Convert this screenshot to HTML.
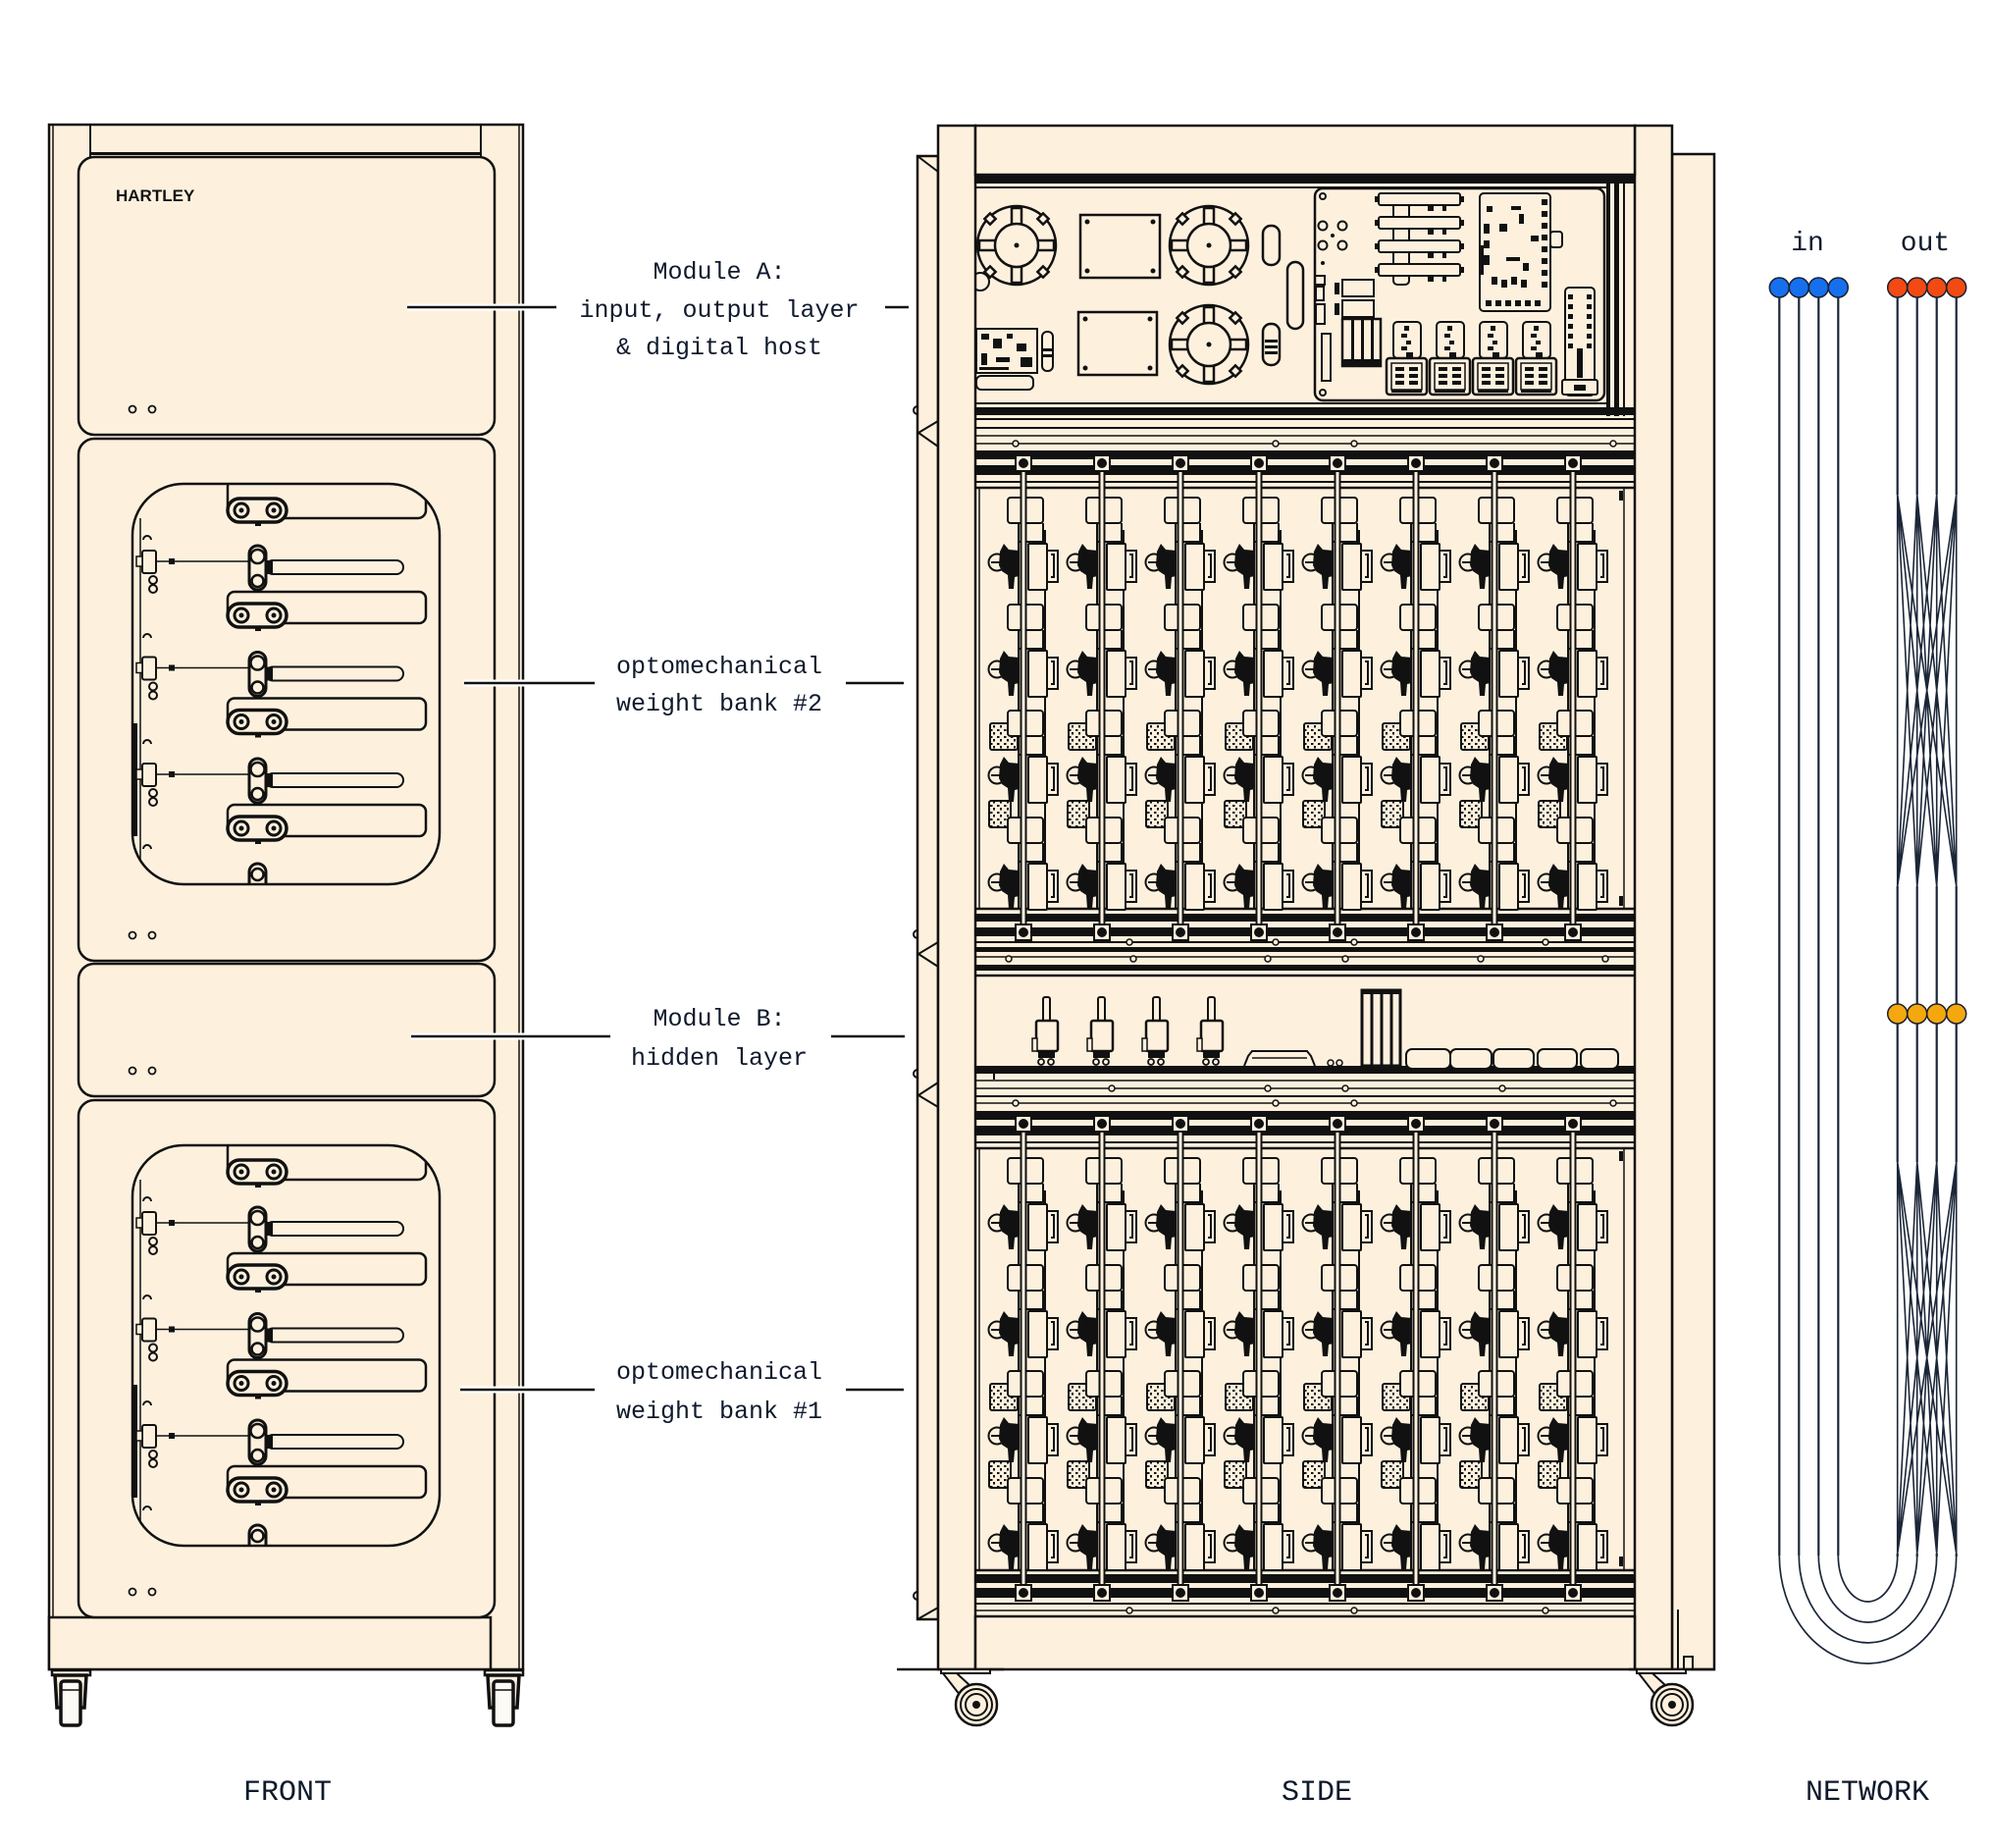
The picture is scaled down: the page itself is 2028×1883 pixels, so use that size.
<!DOCTYPE html>
<html><head><meta charset="utf-8"><style>
html,body{margin:0;padding:0;background:#fff;}
svg{display:block;}
text{font-family:"Liberation Mono",monospace;fill:#0f1a2c;}
</style></head><body>
<svg width="2028" height="1883" viewBox="0 0 2028 1883" xmlns="http://www.w3.org/2000/svg">
<defs>
 <pattern id="spk" width="7" height="7" patternUnits="userSpaceOnUse">
  <rect width="7" height="7" fill="#FDF1DE"/>
  <rect x="1" y="1" width="2.5" height="2" fill="#111"/>
  <rect x="4" y="4" width="2" height="2.5" fill="#111"/>
 </pattern>
 <clipPath id="wc"><rect x="135" y="493" width="313" height="408" rx="52"/></clipPath>

 <g id="roll">
  <rect x="232" y="508" width="60" height="24" rx="12" fill="#FDF1DE" stroke="#111" stroke-width="3.5"/>
  <circle cx="246" cy="520" r="7" fill="#FDF1DE" stroke="#111" stroke-width="3"/>
  <circle cx="246" cy="520" r="2.5" fill="#111"/>
  <circle cx="279" cy="520" r="7" fill="#FDF1DE" stroke="#111" stroke-width="3"/>
  <circle cx="279" cy="520" r="2.5" fill="#111"/>
  <rect x="260" y="532" width="6" height="4" fill="#111"/>
 </g>

 <g id="wrow">
  <line x1="160" y1="572" x2="254" y2="572" stroke="#111" stroke-width="1.5"/>
  <rect x="145" y="561" width="14" height="23" rx="2" fill="#FDF1DE" stroke="#111" stroke-width="2"/>
  <rect x="139" y="567" width="6" height="10" fill="#FDF1DE" stroke="#111" stroke-width="1.5"/>
  <rect x="172" y="569" width="6" height="6" fill="#111"/>
  <circle cx="156" cy="591" r="4" fill="#FDF1DE" stroke="#111" stroke-width="2"/>
  <circle cx="156" cy="600" r="4" fill="#FDF1DE" stroke="#111" stroke-width="2"/>
  <rect x="271" y="571" width="140" height="14" rx="7" fill="#FDF1DE" stroke="#111" stroke-width="2"/>
  <rect x="271" y="571" width="7" height="14" fill="#111"/>
  <rect x="254" y="556" width="17" height="45" rx="8.5" fill="#FDF1DE" stroke="#111" stroke-width="3"/>
  <circle cx="262.5" cy="567" r="7" fill="#FDF1DE" stroke="#111" stroke-width="2.5"/>
  <circle cx="262.5" cy="592" r="6" fill="#FDF1DE" stroke="#111" stroke-width="2.5"/>
  <rect x="232" y="603" width="202" height="32" rx="7" fill="#FDF1DE" stroke="#111" stroke-width="2.5"/>
  <use href="#roll" y="107"/>
 </g>

 <g id="win">
  <rect x="135" y="493" width="313" height="408" rx="52" fill="#FDF1DE"/>
  <g clip-path="url(#wc)">
   <line x1="143" y1="528" x2="143" y2="898" stroke="#111" stroke-width="1.5"/>
   <rect x="136" y="737" width="4" height="115" fill="#111"/>
   <rect x="232" y="488" width="202" height="40" rx="8" fill="#FDF1DE" stroke="#111" stroke-width="2.5"/>
   <use href="#roll"/>
   <use href="#wrow"/>
   <use href="#wrow" y="108.5"/>
   <use href="#wrow" y="217"/>
   <rect x="254" y="880" width="17" height="30" rx="8.5" fill="#FDF1DE" stroke="#111" stroke-width="3"/>
   <circle cx="262.5" cy="891" r="6" fill="#FDF1DE" stroke="#111" stroke-width="2.5"/>
   <g fill="none" stroke="#111" stroke-width="2">
    <path d="M146 550a4 4 0 0 1 8 0"/><path d="M146 650a4 4 0 0 1 8 0"/>
    <path d="M146 758a4 4 0 0 1 8 0"/><path d="M146 865a4 4 0 0 1 8 0"/>
   </g>
  </g>
  <rect x="135" y="493" width="313" height="408" rx="52" fill="none" stroke="#111" stroke-width="2.5"/>
 </g>

 <g id="fc">
  <rect x="53" y="1702" width="39" height="5" fill="#FDF1DE" stroke="#111" stroke-width="2.5"/>
  <path d="M56 1707H88L86 1740H58Z" fill="#FDF1DE" stroke="#111" stroke-width="3.5"/>
  <rect x="62" y="1713" width="20" height="45" rx="3" fill="#FDFBF6" stroke="#111" stroke-width="3.5"/>
  <line x1="62" y1="1722" x2="82" y2="1722" stroke="#111" stroke-width="1.5"/>
 </g>

 <g id="sc">
  <rect x="-36" y="-36" width="50" height="4" fill="#FDF1DE" stroke="#111" stroke-width="2"/>
  <path d="M-34 -32L-20 -32L6 -8L-6 4Z" fill="#FDF1DE" stroke="#111" stroke-width="2"/>
  <circle r="21" fill="#FDF1DE" stroke="#111" stroke-width="2.5"/>
  <circle r="16" fill="none" stroke="#111" stroke-width="2"/>
  <circle r="11" fill="none" stroke="#111" stroke-width="2"/>
  <circle r="4" fill="#111"/>
 </g>

 <g id="fl">
  <circle r="40" fill="#FDF1DE" stroke="#111" stroke-width="2.5"/>
  <g fill="#FDF1DE" stroke="#111" stroke-width="2.5">
   <rect x="-5" y="-38" width="10" height="18"/>
   <rect x="-5" y="20" width="10" height="18"/>
   <rect x="-38" y="-5" width="18" height="10"/>
   <rect x="20" y="-5" width="18" height="10"/>
   <rect x="-4" y="-4" width="8" height="8" transform="translate(27,-27) rotate(45)"/>
   <rect x="-4" y="-4" width="8" height="8" transform="translate(-27,-27) rotate(45)"/>
   <rect x="-4" y="-4" width="8" height="8" transform="translate(27,27) rotate(45)"/>
   <rect x="-4" y="-4" width="8" height="8" transform="translate(-27,27) rotate(45)"/>
  </g>
  <circle r="22" fill="#FDF1DE" stroke="#111" stroke-width="2.5"/>
  <circle r="2.5" fill="#111"/>
 </g>

 <g id="unit">
  <rect x="-16" y="-64" width="36" height="26" rx="3" fill="#FDF1DE" stroke="#111" stroke-width="2"/>
  <path d="M-5 -38V-19M20 -38V-19" fill="none" stroke="#111" stroke-width="2"/>
  <circle cx="-27" cy="2" r="8.5" fill="#FDF1DE" stroke="#111" stroke-width="2"/>
  <line x1="-33" y1="2" x2="-21" y2="2" stroke="#111" stroke-width="2"/>
  <path d="M-24 -9L-20 -17L-15 -11L-4 -10L-4 16L-9 17L-10 29L-15 29L-16 15L-22 11L-25 5Z" fill="#111"/>
  <rect x="5" y="-17" width="19" height="47" rx="1" fill="#FDF1DE" stroke="#111" stroke-width="2"/>
  <path d="M24 -10H35V22H24M28 -6H31V17H28" fill="none" stroke="#111" stroke-width="2"/>
  <line x1="-4" y1="-19" x2="22" y2="-19" stroke="#111" stroke-width="2"/>
 </g>

 <g id="col">
  <path d="M-5 43V429M22 43V429" fill="none" stroke="#111" stroke-width="2"/>
  <rect x="-34" y="240" width="28" height="27" rx="2" fill="url(#spk)" stroke="#111" stroke-width="2"/>
  <rect x="-35" y="319" width="22" height="27" rx="2" fill="url(#spk)" stroke="#111" stroke-width="2"/>
  <use href="#unit" y="74"/>
  <use href="#unit" y="183"/>
  <use href="#unit" y="291"/>
  <use href="#unit" y="400"/>
  <rect x="-2.5" y="-17" width="5" height="462" fill="#FDF1DE" stroke="#111" stroke-width="2"/>
  <rect x="-8" y="-33" width="16" height="16" fill="#FDF1DE" stroke="#111" stroke-width="2"/>
  <circle cx="0" cy="-25" r="5" fill="#111"/>
  <rect x="-8" y="445" width="16" height="16" fill="#FDF1DE" stroke="#111" stroke-width="2"/>
  <circle cx="0" cy="453" r="5" fill="#111"/>
 </g>

 <g id="bank">
  <line x1="998" y1="0" x2="998" y2="429" stroke="#111" stroke-width="1.5"/>
  <line x1="1655" y1="0" x2="1655" y2="429" stroke="#111" stroke-width="1.5"/>
  <rect x="1650" y="3" width="4" height="10" fill="#111"/>
  <rect x="1650" y="416" width="4" height="10" fill="#111"/>
  <use href="#col" x="1043"/>
  <use href="#col" x="1123"/>
  <use href="#col" x="1203"/>
  <use href="#col" x="1283"/>
  <use href="#col" x="1363"/>
  <use href="#col" x="1443"/>
  <use href="#col" x="1523"/>
  <use href="#col" x="1603"/>
 </g>
</defs>

<!-- ================= FRONT ================= -->
<g>
 <rect x="50" y="127" width="483" height="1574" fill="#FDF1DE" stroke="#111" stroke-width="2.5"/>
 <line x1="54" y1="127" x2="54" y2="1701" stroke="#111" stroke-width="1.5"/>
 <line x1="529" y1="127" x2="529" y2="1701" stroke="#111" stroke-width="1.5"/>
 <line x1="92" y1="127" x2="92" y2="160" stroke="#111" stroke-width="2"/>
 <line x1="490" y1="127" x2="490" y2="160" stroke="#111" stroke-width="2"/>
 <line x1="92" y1="156.5" x2="490" y2="156.5" stroke="#111" stroke-width="3"/>
 <rect x="50" y="1648" width="450" height="53" fill="#FDF1DE" stroke="#111" stroke-width="2.5"/>
 <line x1="500" y1="1648" x2="500" y2="1701" stroke="#111" stroke-width="2"/>

 <g fill="#FDF1DE" stroke="#111" stroke-width="2.5">
  <rect x="80" y="160" width="424" height="283" rx="16"/>
  <rect x="80" y="447" width="424" height="532" rx="16"/>
  <rect x="80" y="982" width="424" height="135" rx="16"/>
  <rect x="80" y="1121" width="424" height="527" rx="16"/>
 </g>
 <text x="118" y="205" style="font-family:'Liberation Sans',sans-serif;font-weight:bold;font-size:17px;fill:#111;">HARTLEY</text>
 <g fill="none" stroke="#111" stroke-width="1.8">
  <circle cx="135" cy="417" r="3.5"/><circle cx="155" cy="417" r="3.5"/>
  <circle cx="135" cy="953" r="3.5"/><circle cx="155" cy="953" r="3.5"/>
  <circle cx="135" cy="1091" r="3.5"/><circle cx="155" cy="1091" r="3.5"/>
  <circle cx="135" cy="1622" r="3.5"/><circle cx="155" cy="1622" r="3.5"/>
 </g>
 <use href="#win"/>
 <use href="#win" y="674"/>
 <use href="#fc"/>
 <use href="#fc" x="441"/>
</g>

<!-- ================= CONNECTORS & LABELS ================= -->
<g stroke-linecap="butt">
 <g stroke="#fff" stroke-width="7">
  <line x1="415" y1="313" x2="567" y2="313"/>
  <line x1="473" y1="696" x2="606" y2="696"/>
  <line x1="419" y1="1056" x2="622" y2="1056"/>
  <line x1="469" y1="1416" x2="606" y2="1416"/>
 </g>
 <g stroke="#111" stroke-width="2.5">
  <line x1="415" y1="313" x2="567" y2="313"/><line x1="902" y1="313" x2="926" y2="313"/>
  <line x1="473" y1="696" x2="606" y2="696"/><line x1="862" y1="696" x2="921" y2="696"/>
  <line x1="419" y1="1056" x2="622" y2="1056"/><line x1="847" y1="1056" x2="922" y2="1056"/>
  <line x1="469" y1="1416" x2="606" y2="1416"/><line x1="862" y1="1416" x2="921" y2="1416"/>
 </g>
</g>
<g font-size="25" text-anchor="middle">
 <text x="733" y="284">Module A:</text>
 <text x="733" y="323">input, output layer</text>
 <text x="733" y="361">&amp; digital host</text>
 <text x="733" y="686">optomechanical</text>
 <text x="733" y="724">weight bank #2</text>
 <text x="733" y="1045">Module B:</text>
 <text x="733" y="1085">hidden layer</text>
 <text x="733" y="1405">optomechanical</text>
 <text x="733" y="1445">weight bank #1</text>
</g>

<!-- ================= SIDE ================= -->
<g>
 <rect x="1704" y="157" width="43" height="1544" fill="#FDF1DE" stroke="#111" stroke-width="2.5"/>
 <line x1="1710" y1="1640" x2="1710" y2="1700" stroke="#111" stroke-width="2"/>
 <rect x="1716" y="1688" width="9" height="13" fill="none" stroke="#111" stroke-width="2"/>
 <rect x="935" y="159" width="21" height="1491" fill="#FDF1DE" stroke="#111" stroke-width="2.5"/>
 <g fill="none" stroke="#111" stroke-width="2">
  <path d="M935 159L956 175"/>
  <path d="M956 429L936 441L956 455"/>
  <path d="M956 960L936 972L956 985"/>
  <path d="M956 1103L936 1116L956 1128"/>
  <path d="M935 1650L956 1638"/>
  <path d="M935 414a4 4 0 0 0 0 8"/>
  <path d="M935 948a4 4 0 0 0 0 8"/>
  <path d="M935 1090a4 4 0 0 0 0 8"/>
  <path d="M935 1622a4 4 0 0 0 0 8"/>
 </g>
 <rect x="994" y="178" width="672" height="1469" fill="#FDF1DE"/>

 <!-- Module A contents -->
 <circle cx="999" cy="287" r="9" fill="#FDF1DE" stroke="#111" stroke-width="2"/>
 <use href="#fl" x="1036" y="250"/>
 <use href="#fl" x="1232" y="250"/>
 <use href="#fl" x="1232" y="351"/>
 <g fill="#FDF1DE" stroke="#111" stroke-width="2.5">
  <rect x="1101" y="219" width="81" height="64"/>
  <rect x="1099" y="318" width="80" height="64"/>
  <rect x="1287" y="230" width="17" height="40" rx="8"/>
  <rect x="1312" y="267" width="16" height="68" rx="8"/>
  <rect x="1287" y="330" width="17" height="42" rx="8"/>
  <rect x="995" y="335" width="62" height="45" stroke-width="2"/>
  <rect x="995" y="383" width="58" height="14" rx="5" stroke-width="2"/>
  <rect x="1062" y="338" width="11" height="40" rx="5" stroke-width="2"/>
 </g>
 <g fill="#111">
  <circle cx="1108" cy="226" r="2.5"/><circle cx="1175" cy="226" r="2.5"/><circle cx="1108" cy="276" r="2.5"/><circle cx="1175" cy="276" r="2.5"/>
  <circle cx="1106" cy="325" r="2.5"/><circle cx="1172" cy="325" r="2.5"/><circle cx="1106" cy="375" r="2.5"/><circle cx="1172" cy="375" r="2.5"/>
  <rect x="1289" y="346" width="13" height="3"/><rect x="1289" y="352" width="13" height="3"/><rect x="1289" y="358" width="13" height="3"/>
  <rect x="1063" y="355" width="9" height="3"/><rect x="1063" y="361" width="9" height="3"/>
  <rect x="1000" y="340" width="8" height="6"/><rect x="1012" y="345" width="9" height="10"/><rect x="1026" y="340" width="6" height="5"/>
  <rect x="1036" y="350" width="10" height="8"/><rect x="1000" y="360" width="6" height="12"/><rect x="1015" y="364" width="14" height="5"/>
  <rect x="1040" y="364" width="12" height="10"/><rect x="998" y="374" width="30" height="3"/>
 </g>
 <rect x="1340" y="192" width="295" height="216" rx="8" fill="#FDF1DE" stroke="#111" stroke-width="2.5"/>
 <g fill="none" stroke="#111" stroke-width="2">
  <circle cx="1348" cy="200" r="3"/><circle cx="1348" cy="400" r="3"/>
  <circle cx="1348" cy="230" r="4.5"/><circle cx="1368" cy="230" r="4.5"/>
  <circle cx="1348" cy="250" r="4.5"/><circle cx="1368" cy="250" r="4.5"/>
  <rect x="1340" y="281" width="10" height="9"/><rect x="1341" y="292" width="8" height="14"/><rect x="1341" y="310" width="9" height="20"/>
  <rect x="1347" y="340" width="9" height="48"/>
  <rect x="1420" y="197" width="16" height="93" rx="4" fill="#FDF1DE"/>
 </g>
 <circle cx="1358" cy="240" r="2" fill="#111"/><circle cx="1348" cy="268" r="2" fill="#111"/>
 <g fill="#FDF1DE" stroke="#111" stroke-width="2">
  <rect x="1405" y="197" width="83" height="12" rx="2"/>
  <rect x="1405" y="221" width="83" height="12" rx="2"/>
  <rect x="1405" y="245" width="83" height="12" rx="2"/>
  <rect x="1405" y="269" width="83" height="12" rx="2"/>
  <rect x="1368" y="285" width="32" height="17"/>
  <rect x="1368" y="306" width="32" height="17"/>
  <rect x="1368" y="325" width="39" height="48" stroke-width="2.5"/>
  <rect x="1508" y="197" width="72" height="120" rx="4"/>
  <rect x="1580" y="236" width="12" height="16" rx="3"/>
  <rect x="1595" y="293" width="30" height="110" rx="4"/>
  <rect x="1592" y="387" width="36" height="15" rx="2"/>
 </g>
 <g fill="#111">
  <rect x="1401" y="200" width="4" height="6"/><rect x="1488" y="200" width="4" height="6"/>
  <rect x="1401" y="224" width="4" height="6"/><rect x="1488" y="224" width="4" height="6"/>
  <rect x="1401" y="248" width="4" height="6"/><rect x="1488" y="248" width="4" height="6"/>
  <rect x="1401" y="272" width="4" height="6"/><rect x="1488" y="272" width="4" height="6"/>
  <rect x="1455" y="209" width="6" height="6"/><rect x="1470" y="209" width="4" height="6"/>
  <rect x="1455" y="233" width="6" height="6"/><rect x="1470" y="233" width="4" height="6"/>
  <rect x="1455" y="257" width="6" height="6"/><rect x="1470" y="257" width="4" height="6"/>
  <rect x="1455" y="281" width="6" height="6"/><rect x="1470" y="281" width="4" height="6"/>
  <rect x="1377" y="325" width="3" height="48"/><rect x="1387" y="325" width="3" height="48"/><rect x="1397" y="325" width="3" height="48"/>
  <rect x="1368" y="366" width="39" height="7"/>
  <rect x="1360" y="288" width="5" height="12"/><rect x="1360" y="309" width="5" height="12"/>
  <rect x="1571" y="203" width="6" height="6"/><rect x="1571" y="215" width="6" height="6"/><rect x="1571" y="227" width="6" height="6"/>
  <rect x="1571" y="239" width="6" height="6"/><rect x="1571" y="251" width="6" height="6"/><rect x="1571" y="263" width="6" height="6"/>
  <rect x="1571" y="275" width="6" height="6"/><rect x="1571" y="287" width="6" height="6"/>
  <rect x="1514" y="306" width="6" height="6"/><rect x="1524" y="306" width="6" height="6"/><rect x="1534" y="306" width="6" height="6"/>
  <rect x="1544" y="306" width="6" height="6"/><rect x="1554" y="306" width="6" height="6"/><rect x="1564" y="306" width="6" height="6"/>
  <rect x="1540" y="210" width="10" height="4"/><rect x="1548" y="218" width="5" height="10"/><rect x="1528" y="228" width="8" height="8"/>
  <rect x="1512" y="228" width="6" height="10"/><rect x="1512" y="245" width="6" height="8"/><rect x="1512" y="260" width="6" height="10"/>
  <rect x="1508" y="250" width="4" height="30"/><rect x="1535" y="262" width="14" height="4"/><rect x="1552" y="268" width="6" height="8"/>
  <rect x="1520" y="282" width="6" height="8"/><rect x="1530" y="285" width="6" height="8"/><rect x="1540" y="282" width="6" height="8"/>
  <rect x="1550" y="285" width="6" height="8"/><rect x="1560" y="240" width="8" height="6"/><rect x="1515" y="210" width="6" height="6"/>
  <rect x="1598" y="300" width="5" height="5"/><rect x="1598" y="310" width="5" height="5"/><rect x="1598" y="320" width="5" height="5"/>
  <rect x="1598" y="330" width="5" height="5"/><rect x="1598" y="340" width="5" height="5"/><rect x="1598" y="350" width="5" height="5"/>
  <rect x="1617" y="300" width="5" height="5"/><rect x="1617" y="310" width="5" height="5"/><rect x="1617" y="320" width="5" height="5"/>
  <rect x="1617" y="330" width="5" height="5"/><rect x="1617" y="340" width="5" height="5"/><rect x="1617" y="350" width="5" height="5"/>
  <rect x="1607" y="355" width="6" height="30"/><rect x="1604" y="392" width="12" height="6"/>
 </g>
 <g id="sb">
  <rect x="1420" y="328" width="28" height="37" rx="4" fill="#FDF1DE" stroke="#111" stroke-width="2"/>
  <rect x="1413" y="365" width="41" height="37" rx="3" fill="#FDF1DE" stroke="#111" stroke-width="2.5"/>
  <rect x="1418" y="370" width="31" height="27" fill="none" stroke="#111" stroke-width="1.5"/>
  <g fill="#111">
   <rect x="1431" y="332" width="5" height="5"/><rect x="1428" y="340" width="6" height="4"/><rect x="1433" y="347" width="5" height="4"/>
   <rect x="1428" y="353" width="6" height="4"/><rect x="1433" y="359" width="7" height="5"/>
   <rect x="1422" y="374" width="9" height="4"/><rect x="1436" y="374" width="9" height="4"/>
   <rect x="1422" y="381" width="9" height="4"/><rect x="1436" y="381" width="9" height="4"/>
   <rect x="1422" y="388" width="9" height="4"/><rect x="1436" y="388" width="9" height="4"/>
   <rect x="1418" y="397" width="31" height="3"/>
  </g>
 </g>
 <use href="#sb" x="44"/><use href="#sb" x="88"/><use href="#sb" x="132"/>

 <g fill="#111">
  <rect x="994" y="179" width="672" height="8"/>
  <rect x="1637" y="178" width="4" height="246"/>
  <rect x="1645" y="178" width="5" height="246"/>
  <rect x="994" y="415" width="672" height="8"/>
 </g>
 <g stroke="#111" stroke-width="2">
  <line x1="994" y1="191" x2="1637" y2="191"/>
  <line x1="994" y1="411" x2="1637" y2="411"/>
  <line x1="994" y1="427" x2="1666" y2="427"/>
  <line x1="1655" y1="178" x2="1655" y2="424"/>
 </g>

 <g stroke="#111" fill="none">
  <line x1="994" y1="436" x2="1666" y2="436" stroke-width="2"/>
  <line x1="994" y1="444" x2="1666" y2="444" stroke-width="1.5"/>
  <line x1="994" y1="452" x2="1666" y2="452" stroke-width="1.5"/>
  <line x1="994" y1="491" x2="1666" y2="491" stroke-width="2"/>
  <line x1="994" y1="497" x2="1666" y2="497" stroke-width="2.5"/>
 </g>
 <g fill="#111">
  <rect x="994" y="459" width="672" height="9"/>
  <rect x="994" y="474" width="672" height="10"/>
 </g>
 <g stroke="#111" fill="none">
  <line x1="994" y1="926" x2="1666" y2="926" stroke-width="2.5"/>
  <line x1="994" y1="960" x2="1666" y2="960" stroke-width="2"/>
  <line x1="994" y1="975" x2="1666" y2="975" stroke-width="1.5"/>
  <line x1="994" y1="994" x2="1666" y2="994" stroke-width="2.5"/>
 </g>
 <g fill="#111">
  <rect x="994" y="931" width="672" height="8"/>
  <rect x="994" y="945" width="672" height="9"/>
  <rect x="994" y="965" width="672" height="5"/>
  <rect x="994" y="983" width="672" height="6"/>
 </g>
 <g stroke="#111" fill="none">
  <line x1="994" y1="1101" x2="1666" y2="1101" stroke-width="1.5"/>
  <line x1="994" y1="1109" x2="1666" y2="1109" stroke-width="1.5"/>
  <line x1="994" y1="1117" x2="1666" y2="1117" stroke-width="2"/>
  <line x1="994" y1="1124" x2="1666" y2="1124" stroke-width="1.5"/>
  <line x1="994" y1="1164" x2="1666" y2="1164" stroke-width="2"/>
  <line x1="994" y1="1170" x2="1666" y2="1170" stroke-width="2.5"/>
 </g>
 <g fill="#111">
  <rect x="994" y="1086" width="672" height="8"/>
  <rect x="994" y="1132" width="672" height="9"/>
  <rect x="994" y="1147" width="672" height="10"/>
 </g>
 <g stroke="#111" fill="none">
  <line x1="994" y1="1600" x2="1666" y2="1600" stroke-width="2.5"/>
  <line x1="994" y1="1634" x2="1666" y2="1634" stroke-width="2"/>
  <line x1="994" y1="1641" x2="1666" y2="1641" stroke-width="1.5"/>
 </g>
 <g fill="#111">
  <rect x="994" y="1604" width="672" height="9"/>
  <rect x="994" y="1618" width="672" height="10"/>
 </g>
 <g fill="#FDF1DE" stroke="#111" stroke-width="1.5">
  <circle cx="1035" cy="452" r="3"/><circle cx="1300" cy="452" r="3"/><circle cx="1380" cy="452" r="3"/><circle cx="1644" cy="452" r="3"/>
  <circle cx="1151" cy="960" r="3"/><circle cx="1300" cy="960" r="3"/><circle cx="1380" cy="960" r="3"/><circle cx="1575" cy="960" r="3"/>
  <circle cx="1028" cy="977" r="3"/><circle cx="1155" cy="977" r="3"/><circle cx="1292" cy="977" r="3"/><circle cx="1371" cy="977" r="3"/><circle cx="1509" cy="977" r="3"/><circle cx="1636" cy="977" r="3"/>
  <circle cx="1133" cy="1109" r="3"/><circle cx="1292" cy="1109" r="3"/><circle cx="1371" cy="1109" r="3"/><circle cx="1531" cy="1109" r="3"/>
  <circle cx="1035" cy="1124" r="3"/><circle cx="1300" cy="1124" r="3"/><circle cx="1380" cy="1124" r="3"/><circle cx="1644" cy="1124" r="3"/>
  <circle cx="1151" cy="1641" r="3"/><circle cx="1300" cy="1641" r="3"/><circle cx="1380" cy="1641" r="3"/><circle cx="1575" cy="1641" r="3"/>
 </g>

 <g id="fm">
  <rect x="1063" y="1016" width="7" height="25" rx="2" fill="#FDF1DE" stroke="#111" stroke-width="2"/>
  <rect x="1056" y="1040" width="22" height="31" rx="2" fill="#FDF1DE" stroke="#111" stroke-width="2.5"/>
  <rect x="1052" y="1058" width="5" height="13" fill="#FDF1DE" stroke="#111" stroke-width="1.5"/>
  <rect x="1058" y="1071" width="17" height="7" fill="#111"/>
  <circle cx="1061" cy="1082" r="3" fill="#FDF1DE" stroke="#111" stroke-width="1.8"/>
  <circle cx="1071" cy="1082" r="3" fill="#FDF1DE" stroke="#111" stroke-width="1.8"/>
 </g>
 <use href="#fm" x="56"/><use href="#fm" x="112"/><use href="#fm" x="168"/>
 <path d="M1268 1086L1272 1076L1276 1071H1332L1336 1076L1340 1086" fill="#FDF1DE" stroke="#111" stroke-width="2"/>
 <line x1="1276" y1="1078" x2="1332" y2="1078" stroke="#111" stroke-width="1.5"/>
 <circle cx="1356" cy="1083" r="3" fill="none" stroke="#111" stroke-width="1.5"/>
 <circle cx="1365" cy="1083" r="3" fill="none" stroke="#111" stroke-width="1.5"/>
 <rect x="1388" y="1009" width="39" height="77" fill="#FDF1DE" stroke="#111" stroke-width="3"/>
 <g stroke="#111" stroke-width="3"><line x1="1398" y1="1009" x2="1398" y2="1086"/><line x1="1408" y1="1009" x2="1408" y2="1086"/><line x1="1418" y1="1009" x2="1418" y2="1086"/></g>
 <rect x="1388" y="1008" width="39" height="5" fill="#111"/>
 <g fill="#FDF1DE" stroke="#111" stroke-width="2">
  <rect x="1433" y="1069" width="45" height="20" rx="6"/>
  <rect x="1478" y="1069" width="42" height="20" rx="6"/>
  <rect x="1522" y="1069" width="41" height="20" rx="6"/>
  <rect x="1567" y="1069" width="40" height="20" rx="6"/>
  <rect x="1611" y="1069" width="38" height="20" rx="6"/>
 </g>
 <line x1="1013" y1="1090" x2="1013" y2="1100" stroke="#111" stroke-width="2"/>

 <use href="#bank" y="497"/>
 <use href="#bank" y="1170"/>

 <g fill="#FDF1DE" stroke="#111" stroke-width="2.5">
  <rect x="956" y="128" width="38" height="1573"/>
  <rect x="1666" y="128" width="38" height="1573"/>
  <rect x="994" y="128" width="672" height="50"/>
  <rect x="994" y="1647" width="672" height="54"/>
 </g>
 <line x1="914" y1="1701" x2="1023" y2="1701" stroke="#111" stroke-width="2.5"/>
 <line x1="1660" y1="1701" x2="1748" y2="1701" stroke="#111" stroke-width="2.5"/>
 <use href="#sc" x="995" y="1737"/>
 <use href="#sc" x="1704" y="1737"/>
</g>

<!-- ================= NETWORK ================= -->
<g fill="none" stroke="#1b2638" stroke-width="2.2">
 <path d="M1813.3 293V1585M1833.3 293V1585M1853.3 293V1585M1873.3 293V1585"/>
 <path d="M1933.7 293V504M1953.7 293V504M1973.7 293V504M1993.7 293V504"/>
 <path d="M1933.7 903V1184M1953.7 903V1184M1973.7 903V1184M1993.7 903V1184"/>
 <path d="M1933.7 1583V1586M1953.7 1583V1586M1973.7 1583V1586M1993.7 1583V1586"/>
 <path stroke-width="1.7" d="M1873.3 1585A30.2 47 0 0 0 1933.7 1585M1853.3 1585A50.2 68 0 0 0 1953.7 1585M1833.3 1585A70.2 89 0 0 0 1973.7 1585M1813.3 1585A90.2 110 0 0 0 1993.7 1585"/>
 <path stroke-width="1.6" d="M1933.7 504L1933.7 903M1933.7 504L1953.7 903M1933.7 504L1973.7 903M1933.7 504L1993.7 903M1953.7 504L1933.7 903M1953.7 504L1953.7 903M1953.7 504L1973.7 903M1953.7 504L1993.7 903M1973.7 504L1933.7 903M1973.7 504L1953.7 903M1973.7 504L1973.7 903M1973.7 504L1993.7 903M1993.7 504L1933.7 903M1993.7 504L1953.7 903M1993.7 504L1973.7 903M1993.7 504L1993.7 903"/>
 <path stroke-width="1.6" d="M1933.7 1184L1933.7 1583M1933.7 1184L1953.7 1583M1933.7 1184L1973.7 1583M1933.7 1184L1993.7 1583M1953.7 1184L1933.7 1583M1953.7 1184L1953.7 1583M1953.7 1184L1973.7 1583M1953.7 1184L1993.7 1583M1973.7 1184L1933.7 1583M1973.7 1184L1953.7 1583M1973.7 1184L1973.7 1583M1973.7 1184L1993.7 1583M1993.7 1184L1933.7 1583M1993.7 1184L1953.7 1583M1993.7 1184L1973.7 1583M1993.7 1184L1993.7 1583"/>
</g>
<g stroke="#1b2030" stroke-width="1.5">
 <g fill="#1670EE">
  <circle cx="1813.3" cy="293" r="10"/><circle cx="1833.3" cy="293" r="10"/><circle cx="1853.3" cy="293" r="10"/><circle cx="1873.3" cy="293" r="10"/>
 </g>
 <g fill="#F24A12">
  <circle cx="1933.7" cy="293" r="10"/><circle cx="1953.7" cy="293" r="10"/><circle cx="1973.7" cy="293" r="10"/><circle cx="1993.7" cy="293" r="10"/>
 </g>
 <g fill="#F5A80E">
  <circle cx="1933.7" cy="1033" r="10"/><circle cx="1953.7" cy="1033" r="10"/><circle cx="1973.7" cy="1033" r="10"/><circle cx="1993.7" cy="1033" r="10"/>
 </g>
</g>
<g font-size="28" text-anchor="middle">
 <text x="1842" y="255">in</text>
 <text x="1962" y="255">out</text>
</g>

<g font-size="30" text-anchor="middle">
 <text x="293" y="1834">FRONT</text>
 <text x="1342" y="1834">SIDE</text>
 <text x="1903" y="1834">NETWORK</text>
</g>
</svg>
</body></html>
